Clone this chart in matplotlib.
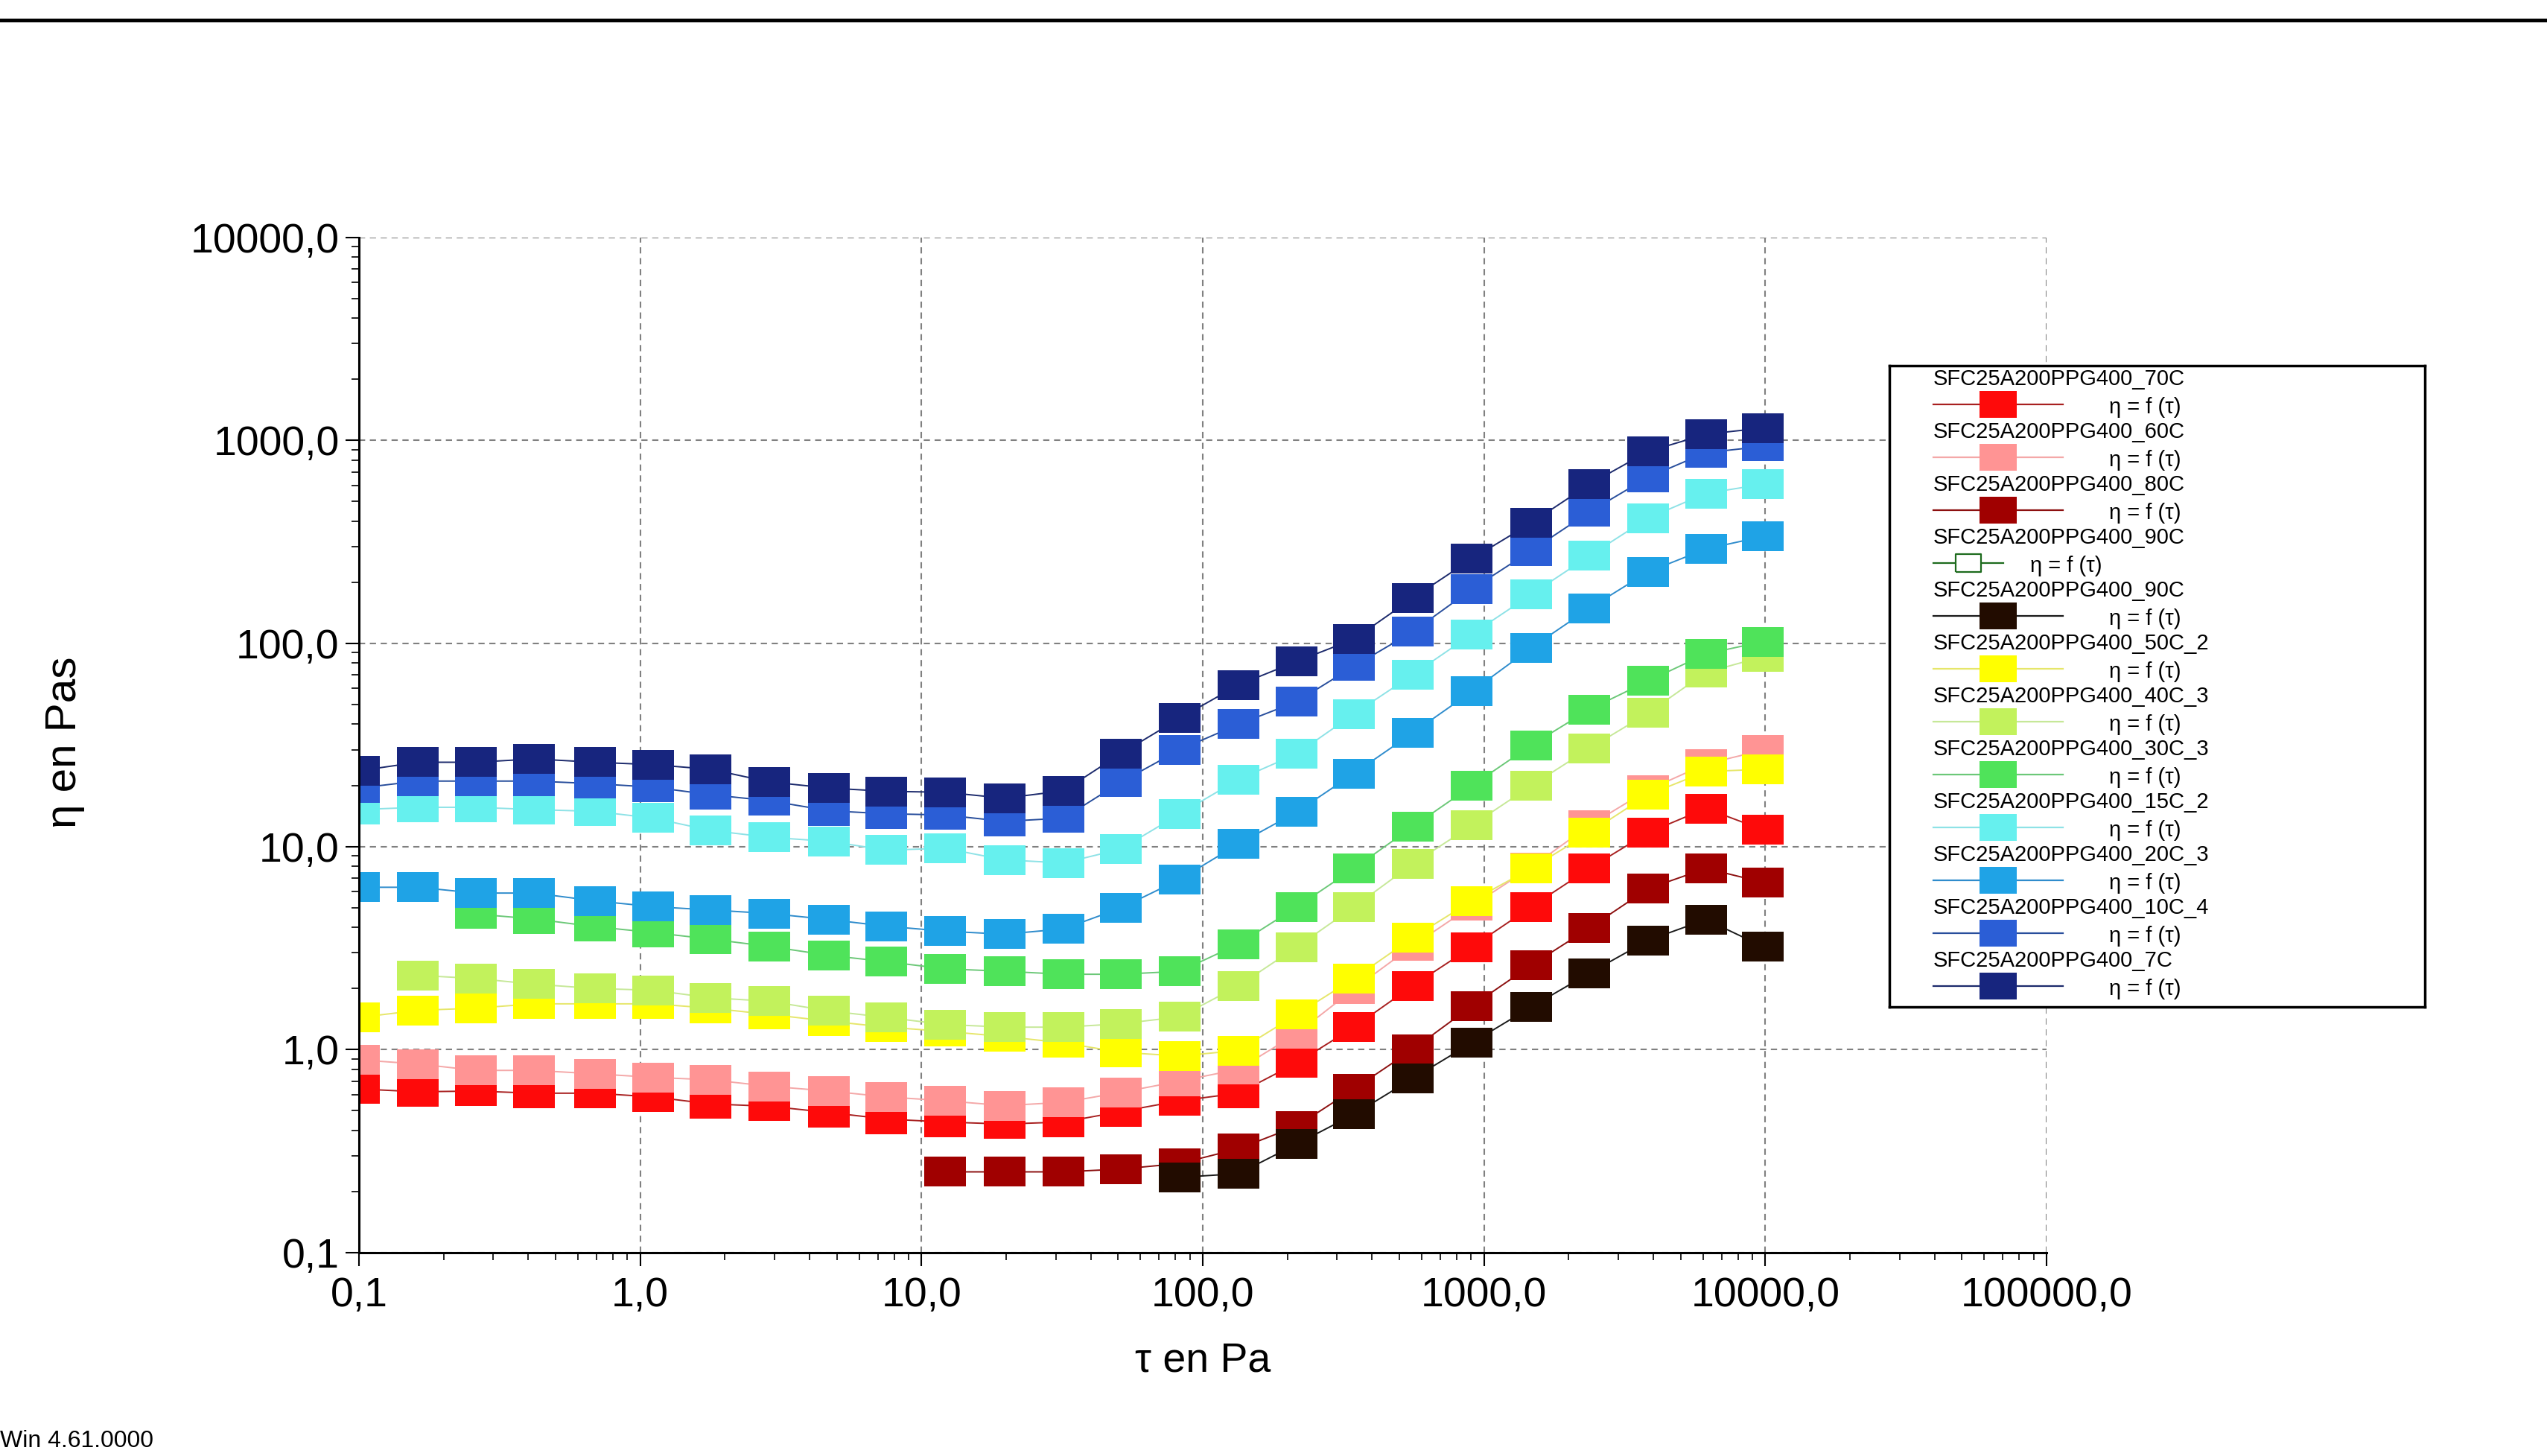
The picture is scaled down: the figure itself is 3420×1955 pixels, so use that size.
import numpy as np
import matplotlib

matplotlib.use("Agg")
import matplotlib.pyplot as plt
from matplotlib.lines import Line2D
from matplotlib.ticker import FixedLocator, FixedFormatter, LogLocator, NullFormatter

plt.rcParams["font.family"] = ["Liberation Sans", "DejaVu Sans"]

W, H = 3420, 1955

# shear stress (Pa), shared by every run
tau = [0.10, 0.162, 0.26, 0.42, 0.69, 1.11, 1.78, 2.88, 4.7, 7.5, 12.1, 19.7, 32,
       51, 83, 134, 216, 345, 557, 905, 1470, 2370, 3830, 6150, 9800]

N = None
eta_70C = [0.64, 0.62, 0.625, 0.61, 0.61, 0.585, 0.54, 0.526, 0.49, 0.455, 0.44, 0.43, 0.44,
           0.495, 0.56, 0.61, 0.86, 1.29, 2.06, 3.2, 5.04, 7.8, 11.7, 15.4, 12.1]
eta_60C = [0.89, 0.85, 0.79, 0.79, 0.76, 0.73, 0.71, 0.66, 0.625, 0.585, 0.56, 0.53, 0.55,
           0.615, 0.7, 0.8, 1.2, 1.99, 3.24, 5.1, 7.9, 12.7, 19, 25.5, 29.8]
eta_80C = [N, N, N, N, N, N, N, N, N, N, 0.25, 0.25, 0.25,
           0.258, 0.275, 0.325, 0.42, 0.64, 1.0, 1.64, 2.6, 3.97, 6.2, 7.8, 6.67]
eta_90C_empty = [N] * 25
eta_90C = [N, N, N, N, N, N, N, N, N, N, N, N, N,
           N, 0.235, 0.245, 0.343, 0.48, 0.72, 1.08, 1.62, 2.38, 3.45, 4.37, 3.22]
eta_50C_2 = [1.44, 1.56, 1.6, 1.68, 1.68, 1.68, 1.6, 1.49, 1.38, 1.29, 1.23, 1.16, 1.08,
             0.97, 0.93, 0.99, 1.49, 2.24, 3.55, 5.4, 7.8, 11.7, 18, 23.4, 24]
eta_40C_3 = [N, 2.32, 2.24, 2.1, 2.0, 1.96, 1.8, 1.73, 1.55, 1.44, 1.33, 1.29, 1.29,
             1.34, 1.45, 2.06, 3.2, 5.04, 8.2, 12.7, 19.9, 30.4, 45.4, 72, 86]
eta_30C_3 = [N, N, 4.65, 4.4, 4.03, 3.77, 3.5, 3.22, 2.91, 2.71, 2.5, 2.43, 2.35,
             2.35, 2.43, 3.31, 5.04, 7.8, 12.5, 19.9, 31.5, 47.3, 65.3, 88.8, 102]
eta_15C_2 = [15.2, 15.6, 15.6, 15.2, 14.9, 13.8, 12, 11.1, 10.6, 9.6, 9.8, 8.6, 8.3,
             9.7, 14.5, 21.4, 28.6, 45, 70, 111, 174, 270, 414, 548, 608]
eta_20C_3 = [6.3, 6.3, 5.9, 5.9, 5.4, 5.06, 4.87, 4.68, 4.37, 4.05, 3.83, 3.7, 3.93,
             4.97, 6.9, 10.3, 14.8, 22.9, 36.2, 58, 95, 149, 225, 292, 336]
eta_10C_4 = [19.4, 21, 21, 21, 20.4, 19.6, 18, 16.8, 15, 14.5, 14.3, 13.3, 13.8,
             20.7, 30, 40, 51.7, 77.3, 114, 185, 286, 444, 658, 870, 933]
eta_7C = [23.6, 26, 26, 27, 26, 25.3, 24, 20.8, 19.4, 18.7, 18.5, 17.3, 18.8,
          28.6, 42.9, 62.5, 81.6, 105, 167, 261, 392, 608, 881, 1072, 1150]

names = ["SFC25A200PPG400_70C", "SFC25A200PPG400_60C", "SFC25A200PPG400_80C",
         "SFC25A200PPG400_90C", "SFC25A200PPG400_90C", "SFC25A200PPG400_50C_2",
         "SFC25A200PPG400_40C_3", "SFC25A200PPG400_30C_3", "SFC25A200PPG400_15C_2",
         "SFC25A200PPG400_20C_3", "SFC25A200PPG400_10C_4", "SFC25A200PPG400_7C"]
series = [eta_70C, eta_60C, eta_80C, eta_90C_empty, eta_90C, eta_50C_2, eta_40C_3,
          eta_30C_3, eta_15C_2, eta_20C_3, eta_10C_4, eta_7C]
marker_colors = ["#fe0a0a", "#ff9494", "#a00000", "none", "#220c00", "#ffff00",
                 "#c2f25c", "#4fe35a", "#66f0ee", "#1fa3e6", "#2b5ed6", "#17257e"]
line_colors = ["#a82020", "#f4a8a8", "#8c1010", "#1d6b1d", "#1a1a1a", "#e6e66a",
               "#c6e898", "#6cc878", "#8ee2e6", "#2f8ccc", "#284e9c", "#1c2a6c"]

y_ticks = [0.1, 1, 10, 100, 1000, 10000]
y_tick_labels = ["0,1", "1,0", "10,0", "100,0", "1000,0", "10000,0"]
x_ticks = [0.1, 1, 10, 100, 1000, 10000, 100000]
x_tick_labels = ["0,1", "1,0", "10,0", "100,0", "1000,0", "10000,0", "100000,0"]

RECT = [(-1.4, -1), (1.4, -1), (1.4, 1), (-1.4, 1), (-1.4, -1)]

fig = plt.figure(figsize=(W / 100, H / 100), dpi=100)
ax = fig.add_axes([482 / W, 1 - 1682 / H, (2748 - 482) / W, (1682 - 318.6) / H])

for vals, mc, lc in zip(series, marker_colors, line_colors):
    y = np.array(vals, dtype=float)
    if np.all(np.isnan(y)):
        continue
    ax.plot(tau, y, color=lc, lw=1.4, marker=RECT, ms=41, mfc=mc, mec=mc, mew=0)

ax.set_xscale("log")
ax.set_yscale("log")
ax.set_xlim(0.1, 100000)
ax.set_ylim(0.1, 10000)
ax.xaxis.set_major_locator(FixedLocator(x_ticks))
ax.xaxis.set_major_formatter(FixedFormatter(x_tick_labels))
ax.yaxis.set_major_locator(FixedLocator(y_ticks))
ax.yaxis.set_major_formatter(FixedFormatter(y_tick_labels))
ax.xaxis.set_minor_locator(LogLocator(base=10, subs=np.arange(2, 10)))
ax.yaxis.set_minor_locator(LogLocator(base=10, subs=np.arange(2, 10)))
ax.xaxis.set_minor_formatter(NullFormatter())
ax.yaxis.set_minor_formatter(NullFormatter())

ax.tick_params(which="major", direction="out", length=13, width=1.5, labelsize=40)
ax.tick_params(which="minor", direction="out", length=7, width=1.2)
ax.tick_params(axis="x", which="major", pad=10)
ax.tick_params(axis="y", which="major", pad=6)
ax.grid(which="major", color="#808080", linestyle=(0, (4, 3)), linewidth=1.5)
for side in ["top", "right"]:
    ax.spines[side].set_visible(False)
for side in ["left", "bottom"]:
    ax.spines[side].set_linewidth(2.2)

fig.text(1615 / W, 1 - 1828 / H, "τ en Pa", fontsize=40, ha="center", va="center")
fig.text(87 / W, 1 - 997 / H, "η en Pas", fontsize=42, ha="center", va="center", rotation=90)
fig.text(0, 1 - 1935 / H, "Win 4.61.0000", fontsize=23, ha="left", va="center")
fig.add_artist(Line2D([0, 1], [1 - 27 / H, 1 - 27 / H], transform=fig.transFigure,
                      color="black", lw=3.6))

# legend panel, in pixel coordinates
lx0, lx1, ly0, ly1 = 2537, 3256, 491, 1352
leg = fig.add_axes([lx0 / W, 1 - ly1 / H, (lx1 - lx0) / W, (ly1 - ly0) / H])
leg.set_xlim(lx0, lx1)
leg.set_ylim(ly1, ly0)
leg.set_xticks([])
leg.set_yticks([])
leg.set_facecolor("white")
for s in leg.spines.values():
    s.set_linewidth(2.5)
    s.set_color("black")

for i, (name, mc, lc) in enumerate(zip(names, marker_colors, line_colors)):
    yt = 509 + 71 * i
    yl = 543 + 71 * i
    leg.text(2596, yt, name, fontsize=21, ha="left", va="center")
    if mc == "none":
        leg.plot([2596, 2690], [yl, yl], color=lc, lw=1.6)
        leg.plot([2643], [yl], marker=RECT, ms=24, mfc="white", mec=lc, mew=1.6)
        leg.text(2726, yl + 4, "η = f (τ)", fontsize=21, ha="left", va="center")
    else:
        leg.plot([2596, 2770], [yl, yl], color=lc, lw=1.6)
        leg.plot([2683], [yl], marker=RECT, ms=36, mfc=mc, mec=mc, mew=0)
        leg.text(2832, yl + 4, "η = f (τ)", fontsize=21, ha="left", va="center")

fig.savefig("out.png", dpi=100)
plt.close(fig)
